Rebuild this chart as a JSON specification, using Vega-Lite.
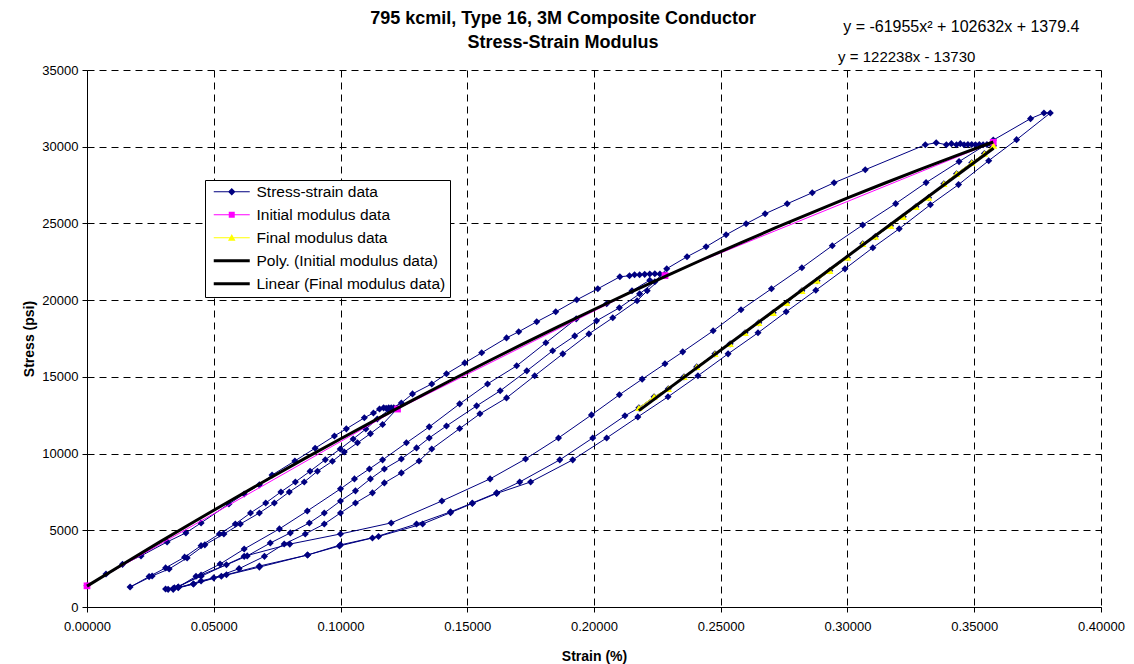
{
  "$schema": "https://vega.github.io/schema/vega-lite/v6.json",
  "width": 1014,
  "height": 537,
  "autosize": "none",
  "padding": {"left": 87, "top": 70, "right": 33, "bottom": 57},
  "background": "white",
  "title": {
    "text": ["795 kcmil, Type 16, 3M Composite Conductor", "Stress-Strain Modulus"],
    "font": "Liberation Sans", "fontSize": 18, "fontWeight": "bold", "color": "black",
    "anchor": "middle", "frame": "group", "offset": -33, "lineHeight": 24, "dx": -31
  },
  "config": {
    "view": {"stroke": null},
    "axis": {
      "labelFont": "Liberation Sans", "labelFontSize": 13, "labelColor": "black",
      "titleFont": "Liberation Sans", "titleFontSize": 14, "titleFontWeight": "bold", "titleColor": "black",
      "domainColor": "black", "tickColor": "black", "tickSize": 5,
      "gridColor": "black", "gridDash": [7, 5], "gridWidth": 1, "gridOpacity": 1
    },
    "legend": {
      "orient": "none", "legendX": 118, "legendY": 110,
      "symbolSize": 100, "symbolStrokeWidth": 0,
      "labelFont": "Liberation Sans", "labelFontSize": 15.5, "labelColor": "black",
      "labelOffset": 32, "labelLimit": 400, "padding": 4, "rowPadding": 6,
      "strokeColor": "black", "fillColor": "white"
    }
  },
  "datasets": {
    "ss": [
      {"i":1,"strain":0.0000,"stress":1380},{"i":2,"strain":0.0075,"stress":2150},{"i":3,"strain":0.0140,"stress":2780},{"i":4,"strain":0.0213,"stress":3330},{"i":5,"strain":0.0316,"stress":4240},{"i":6,"strain":0.0390,"stress":4830},{"i":7,"strain":0.0450,"stress":5480},{"i":8,"strain":0.0560,"stress":6720},{"i":9,"strain":0.0620,"stress":7370},{"i":10,"strain":0.0680,"stress":7960},
      {"i":11,"strain":0.0730,"stress":8600},{"i":12,"strain":0.0820,"stress":9520},{"i":13,"strain":0.0900,"stress":10350},{"i":14,"strain":0.0976,"stress":11150},{"i":15,"strain":0.1023,"stress":11610},{"i":16,"strain":0.1094,"stress":12330},{"i":17,"strain":0.1130,"stress":12650},{"i":18,"strain":0.1154,"stress":12910},{"i":19,"strain":0.1170,"stress":12980},{"i":20,"strain":0.1180,"stress":12950},
      {"i":21,"strain":0.1190,"stress":12990},{"i":22,"strain":0.1200,"stress":12980},{"i":23,"strain":0.1210,"stress":12990},{"i":24,"strain":0.1225,"stress":12950},{"i":25,"strain":0.1166,"stress":11900},{"i":26,"strain":0.1118,"stress":11300},{"i":27,"strain":0.1067,"stress":10700},{"i":28,"strain":0.1015,"stress":10100},{"i":29,"strain":0.0968,"stress":9500},{"i":30,"strain":0.0909,"stress":8850},
      {"i":31,"strain":0.0857,"stress":8150},{"i":32,"strain":0.0798,"stress":7500},{"i":33,"strain":0.0739,"stress":6780},{"i":34,"strain":0.0680,"stress":6130},{"i":35,"strain":0.0605,"stress":5410},{"i":36,"strain":0.0540,"stress":4760},{"i":37,"strain":0.0465,"stress":4050},{"i":38,"strain":0.0395,"stress":3200},{"i":39,"strain":0.0324,"stress":2480},{"i":40,"strain":0.0257,"stress":2020},
      {"i":41,"strain":0.0170,"stress":1300},{"i":42,"strain":0.0245,"stress":1980},{"i":43,"strain":0.0310,"stress":2550},{"i":44,"strain":0.0385,"stress":3250},{"i":45,"strain":0.0450,"stress":4000},{"i":46,"strain":0.0522,"stress":4760},{"i":47,"strain":0.0585,"stress":5410},{"i":48,"strain":0.0645,"stress":6130},{"i":49,"strain":0.0705,"stress":6780},{"i":50,"strain":0.0765,"stress":7500},
      {"i":51,"strain":0.0822,"stress":8150},{"i":52,"strain":0.0880,"stress":8850},{"i":53,"strain":0.0940,"stress":9600},{"i":54,"strain":0.0999,"stress":10300},{"i":55,"strain":0.1050,"stress":10950},{"i":56,"strain":0.1100,"stress":11600},{"i":57,"strain":0.1145,"stress":12250},{"i":58,"strain":0.1190,"stress":12850},{"i":59,"strain":0.1240,"stress":13300},{"i":60,"strain":0.1284,"stress":13890},
      {"i":61,"strain":0.1360,"stress":14540},{"i":62,"strain":0.1418,"stress":15200},{"i":63,"strain":0.1490,"stress":15910},{"i":64,"strain":0.1557,"stress":16570},{"i":65,"strain":0.1655,"stress":17540},{"i":66,"strain":0.1703,"stress":17940},{"i":67,"strain":0.1774,"stress":18590},{"i":68,"strain":0.1849,"stress":19240},{"i":69,"strain":0.1932,"stress":20020},{"i":70,"strain":0.2015,"stress":20740},
      {"i":71,"strain":0.2102,"stress":21520},{"i":72,"strain":0.2140,"stress":21590},{"i":73,"strain":0.2160,"stress":21650},{"i":74,"strain":0.2180,"stress":21650},{"i":75,"strain":0.2200,"stress":21680},{"i":76,"strain":0.2220,"stress":21700},{"i":77,"strain":0.2240,"stress":21720},{"i":78,"strain":0.2260,"stress":21700},{"i":79,"strain":0.2280,"stress":21650},{"i":80,"strain":0.2210,"stress":20610},
      {"i":81,"strain":0.2170,"stress":19960},{"i":82,"strain":0.2074,"stress":18850},{"i":83,"strain":0.1980,"stress":17800},{"i":84,"strain":0.1877,"stress":16500},{"i":85,"strain":0.1766,"stress":15070},{"i":86,"strain":0.1655,"stress":13630},{"i":87,"strain":0.1550,"stress":12590},{"i":88,"strain":0.1470,"stress":11630},{"i":89,"strain":0.1360,"stress":10300},{"i":90,"strain":0.1310,"stress":9520},
      {"i":91,"strain":0.1240,"stress":8740},{"i":92,"strain":0.1173,"stress":8090},{"i":93,"strain":0.1126,"stress":7440},{"i":94,"strain":0.1059,"stress":6780},{"i":95,"strain":0.1000,"stress":6130},{"i":96,"strain":0.0936,"stress":5410},{"i":97,"strain":0.0861,"stress":4760},{"i":98,"strain":0.0778,"stress":4110},{"i":99,"strain":0.0700,"stress":3300},{"i":100,"strain":0.0600,"stress":2500},
      {"i":101,"strain":0.0500,"stress":1900},{"i":102,"strain":0.0420,"stress":1500},{"i":103,"strain":0.0340,"stress":1200},{"i":104,"strain":0.0310,"stress":1170},{"i":105,"strain":0.0360,"stress":1300},{"i":106,"strain":0.0450,"stress":2090},{"i":107,"strain":0.0550,"stress":2750},{"i":108,"strain":0.0632,"stress":3330},{"i":109,"strain":0.0723,"stress":4170},{"i":110,"strain":0.0802,"stress":4830},
      {"i":111,"strain":0.0877,"stress":5480},{"i":112,"strain":0.0936,"stress":6130},{"i":113,"strain":0.1000,"stress":6910},{"i":114,"strain":0.1059,"stress":7570},{"i":115,"strain":0.1118,"stress":8350},{"i":116,"strain":0.1173,"stress":9000},{"i":117,"strain":0.1240,"stress":9650},{"i":118,"strain":0.1300,"stress":10370},{"i":119,"strain":0.1350,"stress":11020},{"i":120,"strain":0.1418,"stress":11800},
      {"i":121,"strain":0.1537,"stress":13110},{"i":122,"strain":0.1630,"stress":14090},{"i":123,"strain":0.1735,"stress":15390},{"i":124,"strain":0.1837,"stress":16700},{"i":125,"strain":0.1924,"stress":17670},{"i":126,"strain":0.2010,"stress":18650},{"i":127,"strain":0.2100,"stress":19500},{"i":128,"strain":0.2180,"stress":20410},{"i":129,"strain":0.2240,"stress":21200},{"i":130,"strain":0.2287,"stress":22050},
      {"i":131,"strain":0.2367,"stress":22830},{"i":132,"strain":0.2442,"stress":23480},{"i":133,"strain":0.2521,"stress":24260},{"i":134,"strain":0.2600,"stress":24980},{"i":135,"strain":0.2675,"stress":25630},{"i":136,"strain":0.2762,"stress":26280},{"i":137,"strain":0.2861,"stress":27000},{"i":138,"strain":0.2947,"stress":27650},{"i":139,"strain":0.3070,"stress":28500},{"i":140,"strain":0.3307,"stress":30130},
      {"i":141,"strain":0.3350,"stress":30260},{"i":142,"strain":0.3390,"stress":30130},{"i":143,"strain":0.3410,"stress":30200},{"i":144,"strain":0.3430,"stress":30130},{"i":145,"strain":0.3445,"stress":30200},{"i":146,"strain":0.3460,"stress":30130},{"i":147,"strain":0.3475,"stress":30150},{"i":148,"strain":0.3490,"stress":30150},{"i":149,"strain":0.3505,"stress":30130},{"i":150,"strain":0.3520,"stress":30150},
      {"i":151,"strain":0.3535,"stress":30130},{"i":152,"strain":0.3550,"stress":30150},{"i":153,"strain":0.3565,"stress":30170},{"i":154,"strain":0.3576,"stress":30070},{"i":155,"strain":0.3540,"stress":29550},{"i":156,"strain":0.3490,"stress":28960},{"i":157,"strain":0.3430,"stress":28240},{"i":158,"strain":0.3380,"stress":27590},{"i":159,"strain":0.3320,"stress":26680},{"i":160,"strain":0.3270,"stress":26090},
      {"i":161,"strain":0.3220,"stress":25440},{"i":162,"strain":0.3170,"stress":24850},{"i":163,"strain":0.3110,"stress":24140},{"i":164,"strain":0.3060,"stress":23680},{"i":165,"strain":0.3000,"stress":22770},{"i":166,"strain":0.2930,"stress":21920},{"i":167,"strain":0.2880,"stress":21270},{"i":168,"strain":0.2820,"stress":20610},{"i":169,"strain":0.2760,"stress":19830},{"i":170,"strain":0.2707,"stress":19180},
      {"i":171,"strain":0.2650,"stress":18520},{"i":172,"strain":0.2596,"stress":17870},{"i":173,"strain":0.2537,"stress":17150},{"i":174,"strain":0.2477,"stress":16500},{"i":175,"strain":0.2405,"stress":15650},{"i":176,"strain":0.2355,"stress":15000},{"i":177,"strain":0.2293,"stress":14220},{"i":178,"strain":0.2237,"stress":13700},{"i":179,"strain":0.2177,"stress":12980},{"i":180,"strain":0.2122,"stress":12460},
      {"i":181,"strain":0.1995,"stress":11020},{"i":182,"strain":0.1865,"stress":9590},{"i":183,"strain":0.1707,"stress":8150},{"i":184,"strain":0.1616,"stress":7440},{"i":185,"strain":0.1520,"stress":6780},{"i":186,"strain":0.1434,"stress":6200},{"i":187,"strain":0.1300,"stress":5410},{"i":188,"strain":0.1126,"stress":4500},{"i":189,"strain":0.0996,"stress":3980},{"i":190,"strain":0.0870,"stress":3390},
      {"i":191,"strain":0.0680,"stress":2670},{"i":192,"strain":0.0550,"stress":2100},{"i":193,"strain":0.0450,"stress":1700},{"i":194,"strain":0.0360,"stress":1250},{"i":195,"strain":0.0320,"stress":1150},{"i":196,"strain":0.0345,"stress":1250},{"i":197,"strain":0.0450,"stress":2000},{"i":198,"strain":0.0620,"stress":3300},{"i":199,"strain":0.0800,"stress":4100},{"i":200,"strain":0.1000,"stress":4760},
      {"i":201,"strain":0.1200,"stress":5480},{"i":202,"strain":0.1400,"stress":6910},{"i":203,"strain":0.1590,"stress":8350},{"i":204,"strain":0.1730,"stress":9650},{"i":205,"strain":0.1860,"stress":11020},{"i":206,"strain":0.1990,"stress":12520},{"i":207,"strain":0.2100,"stress":13830},{"i":208,"strain":0.2190,"stress":14850},{"i":209,"strain":0.2280,"stress":15850},{"i":210,"strain":0.2350,"stress":16630},
      {"i":211,"strain":0.2470,"stress":18000},{"i":212,"strain":0.2580,"stress":19370},{"i":213,"strain":0.2700,"stress":20740},{"i":214,"strain":0.2820,"stress":22110},{"i":215,"strain":0.2940,"stress":23550},{"i":216,"strain":0.3060,"stress":24900},{"i":217,"strain":0.3190,"stress":26290},{"i":218,"strain":0.3310,"stress":27660},{"i":219,"strain":0.3440,"stress":29030},{"i":220,"strain":0.3575,"stress":30430},
      {"i":221,"strain":0.3722,"stress":31830},{"i":222,"strain":0.3775,"stress":32200},{"i":223,"strain":0.3800,"stress":32200},{"i":224,"strain":0.3667,"stress":30460},{"i":225,"strain":0.3557,"stress":29090},{"i":226,"strain":0.3438,"stress":27530},{"i":227,"strain":0.3327,"stress":26220},{"i":228,"strain":0.3204,"stress":24650},{"i":229,"strain":0.3100,"stress":23420},{"i":230,"strain":0.2990,"stress":22040},
      {"i":231,"strain":0.2875,"stress":20640},{"i":232,"strain":0.2758,"stress":19240},{"i":233,"strain":0.2647,"stress":17870},{"i":234,"strain":0.2529,"stress":16500},{"i":235,"strain":0.2410,"stress":15070},{"i":236,"strain":0.2292,"stress":13700},{"i":237,"strain":0.2173,"stress":12390},{"i":238,"strain":0.2050,"stress":11020},{"i":239,"strain":0.1916,"stress":9590},{"i":240,"strain":0.1750,"stress":8150},
      {"i":241,"strain":0.1616,"stress":7400},{"i":242,"strain":0.1520,"stress":6750},{"i":243,"strain":0.1434,"stress":6150},{"i":244,"strain":0.1324,"stress":5410},{"i":245,"strain":0.1150,"stress":4600},{"i":246,"strain":0.1000,"stress":4050},{"i":247,"strain":0.0870,"stress":3390},{"i":248,"strain":0.0680,"stress":2600},{"i":249,"strain":0.0530,"stress":2000},{"i":250,"strain":0.0420,"stress":1500},
      {"i":251,"strain":0.0340,"stress":1150},{"i":252,"strain":0.0360,"stress":1300},{"i":253,"strain":0.0430,"stress":2000},{"i":254,"strain":0.0525,"stress":2800},{"i":255,"strain":0.0620,"stress":3780},{"i":256,"strain":0.0759,"stress":5090},{"i":257,"strain":0.0869,"stress":6260},{"i":258,"strain":0.1000,"stress":7700},{"i":259,"strain":0.1055,"stress":8350},{"i":260,"strain":0.1114,"stress":9000},
      {"i":261,"strain":0.1166,"stress":9590},{"i":262,"strain":0.1260,"stress":10700},{"i":263,"strain":0.1350,"stress":11740},{"i":264,"strain":0.1470,"stress":13240},{"i":265,"strain":0.1580,"stress":14540},{"i":266,"strain":0.1695,"stress":15720},{"i":267,"strain":0.1810,"stress":17220},{"i":268,"strain":0.1930,"stress":18780},{"i":269,"strain":0.2050,"stress":19760},{"i":270,"strain":0.2150,"stress":20610},
      {"i":271,"strain":0.2220,"stress":21300}
    ],
    "init": [
      {"strain":0.0000,"stress":1380},{"strain":0.1225,"stress":12900},{"strain":0.2280,"stress":21600},{"strain":0.3575,"stress":30290}
    ],
    "final": [
      {"strain":0.3576,"stress":30070},{"strain":0.3540,"stress":29550},{"strain":0.3490,"stress":28960},{"strain":0.3430,"stress":28240},{"strain":0.3380,"stress":27590},{"strain":0.3320,"stress":26680},{"strain":0.3270,"stress":26090},{"strain":0.3220,"stress":25440},{"strain":0.3170,"stress":24850},{"strain":0.3110,"stress":24140},
      {"strain":0.3060,"stress":23680},{"strain":0.3000,"stress":22770},{"strain":0.2930,"stress":21920},{"strain":0.2880,"stress":21270},{"strain":0.2820,"stress":20610},{"strain":0.2760,"stress":19830},{"strain":0.2707,"stress":19180},{"strain":0.2650,"stress":18520},{"strain":0.2596,"stress":17870},{"strain":0.2537,"stress":17150},
      {"strain":0.2477,"stress":16500},{"strain":0.2405,"stress":15650},{"strain":0.2355,"stress":15000},{"strain":0.2293,"stress":14220},{"strain":0.2237,"stress":13700},{"strain":0.2177,"stress":12980}
    ],
    "eq1": [{"eq": "y = -61955x² + 102632x + 1379.4"}],
    "eq2": [{"eq": "y = 122238x - 13730"}]
  },
  "layer": [
    {
      "data": {"name": "ss"},
      "mark": {"type": "line", "color": "#000080", "strokeWidth": 1},
      "encoding": {
        "x": {
          "field": "strain", "type": "quantitative",
          "scale": {"domain": [0, 0.4], "nice": false, "zero": false},
          "axis": {"title": "Strain (%)", "values": [0, 0.05, 0.1, 0.15, 0.2, 0.25, 0.3, 0.35, 0.4], "format": ".5f", "labelFlush": false, "labelPadding": 8, "titlePadding": 16, "grid": true}
        },
        "y": {
          "field": "stress", "type": "quantitative",
          "scale": {"domain": [0, 35000], "nice": false, "zero": false},
          "axis": {"title": "Stress (psi)", "values": [0, 5000, 10000, 15000, 20000, 25000, 30000, 35000], "format": "d", "labelPadding": 4, "titlePadding": 5, "grid": true}
        },
        "order": {"field": "i", "type": "quantitative"}
      }
    },
    {
      "data": {"name": "ss"},
      "mark": {"type": "point", "shape": "diamond", "filled": true, "color": "#000080", "size": 50, "opacity": 1},
      "encoding": {"x": {"field": "strain", "type": "quantitative"}, "y": {"field": "stress", "type": "quantitative"}}
    },
    {
      "data": {"name": "init"},
      "mark": {"type": "line", "color": "#FF00FF", "strokeWidth": 1},
      "encoding": {"x": {"field": "strain", "type": "quantitative"}, "y": {"field": "stress", "type": "quantitative"}}
    },
    {
      "data": {"name": "init"},
      "mark": {"type": "point", "shape": "square", "filled": true, "color": "#FF00FF", "size": 45, "opacity": 1},
      "encoding": {"x": {"field": "strain", "type": "quantitative"}, "y": {"field": "stress", "type": "quantitative"}}
    },
    {
      "data": {"name": "final"},
      "mark": {"type": "line", "color": "#FFFF00", "strokeWidth": 1},
      "encoding": {"x": {"field": "strain", "type": "quantitative"}, "y": {"field": "stress", "type": "quantitative"}}
    },
    {
      "data": {"name": "final"},
      "mark": {"type": "point", "shape": "triangle-up", "filled": true, "color": "#FFFF00", "size": 55, "opacity": 1},
      "encoding": {"x": {"field": "strain", "type": "quantitative"}, "y": {"field": "stress", "type": "quantitative"}}
    },
    {
      "data": {"name": "init"},
      "transform": [{"regression": "stress", "on": "strain", "method": "poly", "order": 2, "extent": [0, 0.3575]}],
      "mark": {"type": "line", "color": "black", "strokeWidth": 3},
      "encoding": {"x": {"field": "strain", "type": "quantitative"}, "y": {"field": "stress", "type": "quantitative"}}
    },
    {
      "data": {"name": "final"},
      "transform": [{"regression": "stress", "on": "strain", "method": "linear", "extent": [0.2177, 0.3576]}],
      "mark": {"type": "line", "color": "black", "strokeWidth": 3},
      "encoding": {"x": {"field": "strain", "type": "quantitative"}, "y": {"field": "stress", "type": "quantitative"}}
    },
    {
      "data": {"values": []},
      "mark": {"type": "point", "filled": true, "opacity": 1},
      "encoding": {
        "color": {
          "field": "series", "type": "nominal",
          "scale": {
            "domain": ["Stress-strain data", "Initial modulus data", "Final modulus data", "Poly. (Initial modulus data)", "Linear (Final modulus data)"],
            "range": ["#000080", "#FF00FF", "#FFFF00", "#000000", "#000000"]
          },
          "legend": {"title": null}
        },
        "shape": {
          "field": "series", "type": "nominal",
          "scale": {
            "domain": ["Stress-strain data", "Initial modulus data", "Final modulus data", "Poly. (Initial modulus data)", "Linear (Final modulus data)"],
            "range": [
              "M-0.6,-0.1H6.6V0.1H-0.6Z M3.0,-0.75L3.75,0L3.0,0.75L2.25,0Z",
              "M-0.6,-0.1H6.6V0.1H-0.6Z M2.4,-0.6H3.6V0.6H2.4Z",
              "M-0.6,-0.1H6.6V0.1H-0.6Z M3.0,-0.75L3.75,0.6H2.25Z",
              "M-0.6,-0.3H6.6V0.3H-0.6Z",
              "M-0.6,-0.3H6.6V0.3H-0.6Z"
            ]
          },
          "legend": {"title": null}
        }
      }
    },
    {
      "data": {"name": "eq1"},
      "mark": {"type": "text", "align": "left", "baseline": "middle", "font": "Liberation Sans", "fontSize": 16, "color": "black"},
      "encoding": {
        "x": {"datum": 0.2983, "type": "quantitative"},
        "y": {"datum": 37830, "type": "quantitative"},
        "text": {"field": "eq", "type": "nominal"}
      }
    },
    {
      "data": {"name": "eq2"},
      "mark": {"type": "text", "align": "left", "baseline": "middle", "font": "Liberation Sans", "fontSize": 15, "color": "black"},
      "encoding": {
        "x": {"datum": 0.2963, "type": "quantitative"},
        "y": {"datum": 35870, "type": "quantitative"},
        "text": {"field": "eq", "type": "nominal"}
      }
    }
  ]
}
